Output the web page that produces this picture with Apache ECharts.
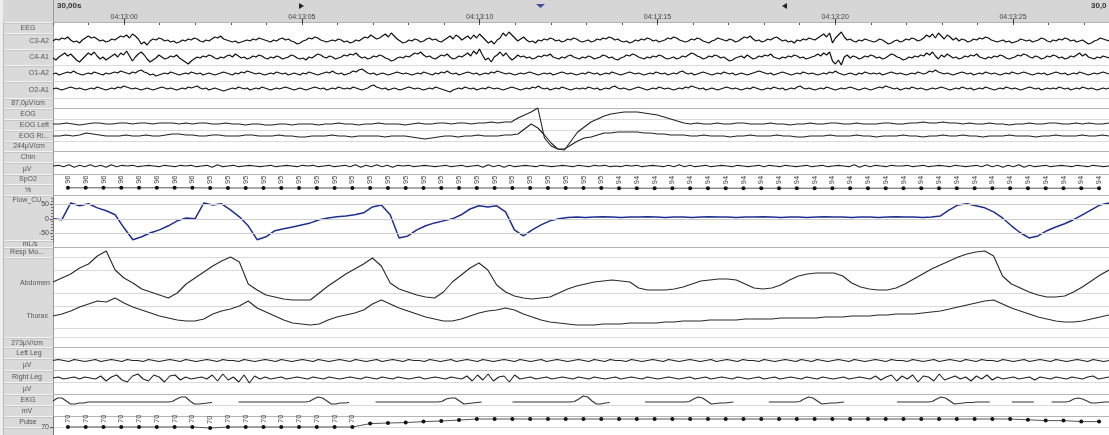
<!DOCTYPE html>
<html>
<head>
<meta charset="utf-8">
<script src="https://cdn.jsdelivr.net/npm/echarts@6/dist/echarts.min.js"></script>
<style>
html,body{margin:0;padding:0;background:#ffffff;}
#chart{width:1109px;height:435px;}
</style>
</head>
<body>
<div id="chart"></div>
<script>
// ================= DATA =================
// time base: seconds relative to 04:13:00
const timeStart = -2.0;
const timeEnd = 27.7;
const tickTimes = [0, 5, 10, 15, 20, 25];
const tickLabels = ['04:13:00', '04:13:05', '04:13:10', '04:13:15', '04:13:20', '04:13:25'];
const windowLabel = '30,00s';
const windowLabelRight = '30,0';
const dotStart = -1.58;   // time of first SpO2 / pulse sample
const dotStep = 0.5;      // seconds between samples

// EEG (display units)
const eegC3 = [
0,2,1,3,2,4,1,-1,0,-2,1,3,5,3,4,2,0,1,-1,0,
2,1,3,5,4,6,3,7,5,2,-3,-1,-4,0,2,1,3,2,0,1,
-1,0,-2,-1,1,0,2,1,3,2,0,-1,1,0,2,4,3,5,2,1,
0,-1,0,-2,-1,0,1,0,2,1,3,2,1,0,-1,1,0,2,3,1,
2,0,-1,-3,-2,0,1,3,2,4,3,1,0,-1,0,1,0,2,1,-1,
0,-2,-1,1,0,2,4,3,6,4,2,3,5,7,4,8,5,2,0,-2,
-1,1,0,2,1,-1,0,2,3,1,2,0,-1,1,3,5,2,6,4,1,
3,5,2,6,3,7,4,1,-2,0,-3,1,3,8,5,9,6,3,0,2,
4,1,-1,0,-2,1,0,2,1,3,2,0,1,-1,0,2,1,3,2,0,
-1,0,1,-1,0,2,1,3,2,4,3,1,2,0,-1,0,-2,-1,1,0,
2,1,3,2,0,1,-1,0,1,3,2,4,3,1,0,-1,0,2,1,3,
2,0,-1,-2,0,1,3,2,1,0,2,1,-1,0,2,4,3,5,2,0,
1,-1,0,2,1,3,4,2,0,1,-1,0,-2,1,0,2,1,3,2,1,
3,5,7,4,8,-2,3,6,9,4,1,2,0,-1,1,0,2,1,0,-1,
0,2,1,-1,-3,-2,0,1,-1,0,2,1,3,2,0,1,3,6,4,7,
3,8,5,2,6,4,1,3,0,2,1,-1,0,2,1,3,2,4,3,1,
0,-1,0,1,-1,0,-2,-1,0,2,1,0,1,-1,0,1,3,2,0,-1,
1,0,2,1,3,2,0,1,-1,0,1,-1,-3,-2,0,1,3,2,1,0];
const eegC4 = [
0,-2,1,3,5,2,4,1,-2,-4,-1,2,5,3,6,2,-1,1,-2,0,
2,4,1,5,3,7,2,-3,1,4,6,3,-1,-4,-2,0,3,1,-1,0,
2,1,3,0,-2,-4,-6,-3,-1,1,0,2,1,3,2,0,-1,1,0,2,
3,1,4,2,0,1,-1,0,2,1,3,2,0,-1,1,0,2,1,-1,0,
1,3,2,0,-1,0,-2,1,0,2,4,3,1,0,2,1,-1,0,1,3,
2,4,3,5,2,0,1,-1,0,2,1,3,2,0,-1,-3,-2,0,1,0,
2,1,3,5,4,6,3,1,2,0,-1,1,3,2,4,1,-1,0,2,1,
3,5,2,7,4,9,3,-2,0,-4,1,3,6,2,5,1,-2,0,3,1,
2,0,1,-1,0,2,1,3,2,4,1,0,-1,1,0,2,3,1,0,-1,
1,0,2,1,-1,0,1,3,2,0,1,-1,-2,0,1,3,2,4,3,1,
0,-1,1,0,2,1,3,2,0,-1,0,1,-1,0,2,1,3,5,4,2,
1,-1,0,2,1,3,2,0,1,-1,-3,-2,0,1,2,0,3,1,-1,0,
2,1,3,2,4,1,0,-1,1,0,2,1,3,2,0,1,-1,0,1,2,
4,2,5,3,6,-3,-6,-2,-7,1,3,0,2,1,-1,0,2,1,3,2,
0,1,-1,0,2,4,3,1,0,-2,-1,1,0,2,1,3,2,5,3,6,
2,-1,3,1,4,2,0,1,-1,0,2,1,3,2,4,1,0,-1,1,0,
2,1,3,2,0,-1,0,1,3,2,4,3,1,0,2,1,-1,0,2,1,
3,2,0,1,-1,0,2,1,3,5,2,4,1,0,-1,1,0,2,1,0];
const eegO1 = [
0,1,-1,0,1,2,1,3,1,0,-1,0,1,0,2,1,0,-1,1,0,
1,2,1,3,2,1,0,2,1,3,4,2,1,-1,0,-2,-1,0,1,0,
2,1,0,-1,0,1,0,2,1,0,1,-1,0,1,0,-1,0,1,2,1,
0,-1,1,0,2,1,3,2,1,0,1,0,-1,0,1,0,2,1,0,1,
-1,0,1,0,-1,1,0,2,1,0,-1,0,1,2,1,3,1,0,1,-1,
0,1,3,2,4,5,3,1,0,1,-1,0,1,0,-1,0,1,2,1,0,
1,0,-1,0,1,0,2,1,0,-1,1,0,2,1,3,1,0,1,-1,0,
1,2,1,0,1,-1,0,1,0,2,1,3,2,1,0,1,0,-1,0,1,
0,1,2,1,0,-1,0,1,0,1,-1,0,1,2,1,0,1,0,-1,0,
1,0,2,1,0,1,-1,0,1,0,2,1,0,-1,0,1,2,1,0,1,
0,-1,0,1,0,2,1,0,1,-1,0,1,0,2,3,1,0,1,-1,0,
1,2,1,0,-1,0,1,0,2,1,0,1,-1,0,1,0,-1,0,1,2,
3,2,1,0,1,-1,0,1,2,1,0,-1,0,1,0,2,1,0,1,0,
-1,0,1,0,2,1,3,1,0,-1,0,1,0,-1,1,0,2,1,0,1,
0,1,-1,0,1,2,1,0,1,0,-1,0,1,0,2,1,0,1,3,2,
4,2,1,0,1,0,-1,0,1,2,1,0,1,-1,0,1,0,2,1,0,
1,0,-1,0,1,0,2,1,0,1,2,1,0,-1,0,1,0,1,-1,0,
1,2,1,0,1,-1,0,1,0,2,1,0,-1,0,1,0,1,2,1,0];
const eegO2 = [
0,1,0,-1,0,1,2,1,0,1,0,-1,0,1,0,2,1,0,-1,0,
1,0,2,1,3,2,1,0,1,0,-1,0,1,0,-1,0,1,2,1,0,
1,0,-1,0,1,0,2,1,2,3,1,0,1,-1,0,1,0,-1,-2,-1,
0,1,0,2,1,0,1,-1,0,1,0,2,1,0,-1,0,1,0,1,2,
1,0,-1,0,1,0,-1,0,1,2,1,0,1,-1,0,1,0,2,1,0,
1,0,2,1,0,-1,0,1,3,4,2,1,0,1,-1,0,1,0,-1,0,
1,2,1,0,1,0,-1,0,1,0,2,1,0,-1,-2,-3,-1,0,1,0,
2,1,0,1,-1,0,1,0,2,1,0,1,0,-1,0,1,2,1,0,-1,
0,1,0,2,1,3,1,0,1,-1,0,1,0,2,1,0,-1,0,1,0,
1,0,2,1,0,1,-1,0,1,0,2,3,1,0,1,0,-1,0,1,2,
1,0,-1,0,1,0,2,1,0,1,0,-1,0,1,0,2,1,3,2,1,
0,1,-1,0,1,0,-1,0,1,2,1,0,1,0,-1,0,1,0,2,1,
0,-1,0,1,0,2,1,0,1,-1,0,1,0,2,3,1,0,1,0,-1,
0,1,0,2,1,0,-1,0,1,0,1,2,1,0,-1,0,1,0,-1,0,
1,2,1,3,2,1,0,1,-1,0,1,0,2,1,0,1,0,-1,0,1,
0,1,2,1,0,-1,0,1,0,2,1,0,1,-1,0,1,0,2,1,0,
-1,0,1,0,2,1,0,1,0,-1,0,1,2,1,0,1,-1,0,1,0,
1,0,2,1,0,1,-1,0,1,0,2,1,0,1,0,-1,0,1,0,1];

// EOG
const eogLeft = [
0,0,1,0,-1,0,1,1,0,0,1,1,0,1,1,0,1,1,1,0,
1,0,1,1,0,0,1,0,0,-1,0,0,-1,-1,0,0,-1,0,0,0,
-1,0,0,1,0,0,-1,0,0,1,0,0,0,-1,0,1,0,0,1,1,
0,1,1,0,1,1,2,1,2,2,
6,9,12,16,-14,-22,-25,-26,-17,-8,
-3,2,5,8,10,11,12,12,12,11,10,9,7,5,3,1,
0,1,0,0,1,0,0,1,1,0,0,0,1,0,0,-1,0,0,1,0,
0,1,1,0,0,1,0,0,0,1,1,0,0,1,1,2,1,1,2,1,
1,0,1,0,0,1,0,0,-1,0,0,1,0,0,1,1,0,0,1,0,
1,0,0,1];
const eogRight = [
0,0,1,0,1,3,2,1,0,0,0,1,0,0,1,0,0,1,2,2,
1,1,0,0,1,1,0,0,0,1,1,0,0,0,1,0,0,-1,-1,0,
0,0,1,0,0,-1,0,0,0,0,-1,0,0,0,-1,-2,-3,-2,-1,0,
0,-1,0,0,1,0,0,0,1,1,
2,7,12,8,1,-7,-13,-13,-9,-5,
-2,-1,1,3,3,4,4,4,4,3,3,2,2,1,1,1,
0,0,1,0,0,0,-1,0,0,1,0,0,0,1,0,0,-1,-1,0,0,
0,1,0,0,0,1,0,0,-1,0,0,0,1,0,0,-1,0,0,1,0,
0,1,0,0,-1,0,0,0,1,0,0,0,-1,0,0,1,0,0,0,1,
0,0,1,0];

// Chin EMG
const chin = [
0,1,-1,2,-2,1,-1,2,-1,1,-2,2,-1,1,0,1,-1,0,1,0,
-1,1,0,-1,1,0,1,-1,0,1,-2,2,-1,0,1,-1,0,1,0,-1,
0,1,-1,0,1,0,-1,1,0,1,-1,0,1,-1,0,1,-1,2,-2,1,
-1,2,-1,1,-2,1,0,1,-1,0,1,0,-1,0,1,-1,0,1,-1,0,
1,-2,2,-1,1,-2,1,-1,0,1,0,-1,1,0,-1,0,1,0,-1,1,
0,-1,1,0,1,-1,0,-1,1,0,1,-1,0,1,0,-1,1,-1,2,-1,
1,-1,0,1,-1,0,1,0,-1,1,0,-1,0,1,-1,1,0,-1,1,0,
-1,0,1,-1,0,1,-1,0,1,0,-1,2,-2,1,-1,1,0,-1,1,0,
0,1,-1,0,1,-1,0,1,0,-1,1,0,-1,0,1,-1,2,-1,1,-2,
1,-1,2,-2,1,-1,0,1,-1,0,1,0,-1,1,0,-1,1,0,-1,0];

// SpO2 (%)
const spo2 = [96,96,96,96,96,96,96,96,
95,95,95,95,95,95,95,95,95,95,95,95,95,95,95,95,95,95,95,95,95,95,95,
94,94,94,94,94,94,94,94,94,94,94,94,94,94,94,94,94,94,94,94,94,94,94,94,94,94,94,94];

// Airflow (mL/s)
const flow = [
0,-3,55,45,52,38,28,14,-31,-72,-62,-48,-38,-24,-7,3,0,55,48,52,
31,7,-24,-72,-62,-41,-34,-28,-21,-14,-3,3,7,10,14,21,41,48,14,-66,
-59,-38,-24,-14,-7,0,14,34,45,41,45,24,-38,-59,-38,-21,-7,0,5,6,
5,6,7,6,5,6,6,7,6,5,6,6,5,6,7,6,6,5,6,6,
7,6,5,6,6,5,6,7,6,6,5,6,6,5,6,7,6,6,5,6,
10,31,48,52,45,38,24,3,-24,-48,-66,-59,-41,-28,-17,-3,14,31,48,55];

// Respiratory effort
const abdomen = [
28,32,36,42,46,54,59,40,32,27,21,18,15,12,17,26,32,38,44,49,
53,48,26,20,15,13,11,10,10,10,17,24,30,36,41,46,52,44,27,21,
18,15,13,12,18,28,35,42,47,40,25,18,14,12,11,12,13,17,21,24,
26,28,29,30,29,28,22,20,20,20,21,23,26,29,30,31,31,30,26,22,
21,22,25,30,34,36,37,37,37,34,27,23,21,20,20,22,26,31,36,41,
45,49,53,56,58,59,54,34,26,22,18,15,13,13,14,18,23,29,35,40];
const thorax = [
14,16,19,23,26,29,28,32,27,23,20,17,14,12,10,9,9,11,16,19,
21,24,29,22,18,14,10,7,6,5,6,10,13,15,17,20,26,30,26,22,
19,16,13,11,9,9,11,14,17,19,20,22,20,16,13,10,8,7,6,5,
5,5,6,6,6,7,7,7,7,8,8,9,9,9,10,10,10,10,11,11,
11,11,12,12,12,12,12,13,13,13,14,14,14,15,15,16,16,16,17,18,
19,21,23,25,27,29,30,26,22,19,16,13,11,9,8,8,9,11,13,15];

// Leg EMG
const leftLeg = [
0,1,0,-1,1,0,-1,0,1,-1,0,1,0,-1,1,0,0,-1,1,0,
-1,0,1,0,-1,1,0,-1,0,1,0,-1,1,0,0,-1,1,0,-1,0,
1,0,-1,1,0,-1,0,1,0,-1,1,0,-1,0,1,0,-1,1,0,-1,
0,1,-1,0,1,0,-1,1,0,0,-1,1,0,-1,0,1,-1,0,1,0,
-1,1,0,-1,0,1,0,-1,1,0,-1,0,1,-1,0,1,0,-1,0,1,
0,-1,1,0,-1,1,0,0,-1,1,0,-1,0,1,0,-1,1,0,-1,0,
1,0,-1,0,1,-1,0,1,0,-1,1,0,0,-1,1,0,-1,0,1,0,
-1,1,0,-1,1,0,-1,0,1,0,-1,1,0,-1,0,1,0,-1,1,0,
0,-1,1,0,-1,0,1,-1,0,1,0,-1,1,0,-1,1,0,0,-1,1,
0,-1,0,1,-1,0,1,0,-1,1,0,-1,0,1,0,-1,1,0,-1,0];
const rightLeg = [
0,1,-1,0,1,-1,1,0,-1,2,-3,1,3,-2,-4,2,4,-1,-3,3,
1,-4,2,3,-2,1,-1,0,1,-1,3,-3,4,-2,1,-4,3,-5,2,-1,
1,-1,0,1,-1,0,1,0,-1,1,0,-1,1,0,-1,0,1,0,-1,1,
0,-1,1,0,-1,1,0,-1,0,1,-1,0,1,0,-1,1,0,-1,2,-3,
3,-2,4,-3,1,2,-4,3,-1,0,1,-1,0,1,-1,0,1,0,-1,1,
0,-1,1,0,-1,0,1,-1,0,1,0,-1,1,0,-1,0,1,0,-1,0,
1,-1,0,1,-1,0,1,0,-1,1,0,-1,0,1,-1,0,1,-1,0,1,
0,-1,1,0,-1,1,0,-1,0,1,-1,0,1,0,-1,2,-2,1,3,-3,
2,-1,3,-4,2,1,-3,4,-2,0,2,-1,1,-3,2,-1,3,-2,1,-1,
0,1,-1,0,1,-2,1,0,-1,1,0,-1,1,0,-1,1,2,-1,0,1];

// EKG (display units), null = trace not drawn
const ekg = [
1,4,4,1,-2,-2,-1,-1,0,0,0,0,0,0,0,0,0,0,0,0,
0,0,0,0,0,0,0,0.5,3,5,5,1,-2,-2,-1.5,-1,-0.5,null,null,null,
null,null,0,0,0,0,0,0,0,0,0,0,0,0,0,0,0,0,0.5,3,
5,4,1,-2,-2,-1,-1,-0.5,null,null,null,null,null,0,0,0,0,0,0,0,
0,0,0,0,0,0,0,0,0.5,3,4,4,1,-2,-1.5,-1,-0.5,0,null,null,
null,null,null,null,0,0,0,0,0,0,0,0,0,0,0,0,0,0,0.5,3,
6,5,1,-2,-2,-1,-0.5,null,null,null,null,null,null,null,0,0,0,0,0,0,
0,0,0,0,0.5,3,5,4,1,-2,-1.5,-1,-1,-0.5,0,null,null,null,null,null,
null,null,0,0,0,0,0,0,0,0.5,3,5,4,1,-2,-1.5,-1,-1,-0.5,0,
null,null,null,null,null,null,null,null,null,null,null,0,0,0,0,0,0,0,0,0.5,
3,5,4,1,-2,-1.5,-1,-0.5,-0.5,0,0,0,0,null,null,null,null,0,0,0,
0,0,0,null,null,null,0,0,0,0,0.5,3,4,3,1,-1,-1,-0.5,0,0];

// Pulse (bpm)
const pulse = [70,70,70,70,70,70,70,70,69.5,70,70,70,70,70,70,70,70,
71.7,72,72.2,72.7,73,73.5,
74,74,74,74,74,74,74,74,74,74,74,74,74,74,74,74,74,74,74,74,74,74,74,74,74,74,74,74,74,74,
74,73.6,73.2,73.2,72.7,72.7];

// ================= BUILD =================
const FONT = "'Liberation Sans','DejaVu Sans',Arial,sans-serif";
const grids = [], xAxes = [], yAxes = [], series = [];

function seq(arr) {
  const n = arr.length;
  return arr.map((v, i) => [timeStart + i * (timeEnd - timeStart) / (n - 1), v]);
}
function dots(arr) {
  return arr.map((v, i) => [dotStart + i * dotStep, v]);
}
function track(top, height, min, max, yOpts) {
  const gi = grids.length;
  grids.push({left: 53, right: 0, top: top, height: height});
  const xi = xAxes.length;
  xAxes.push({type: 'value', gridIndex: gi, min: timeStart, max: timeEnd, show: false});
  const yi = yAxes.length;
  yAxes.push(Object.assign({type: 'value', gridIndex: gi, min: min, max: max, show: false, splitLine: {show: false}}, yOpts || {}));
  return {gi, xi, yi};
}
function trace(t, arr, color, width, extra) {
  const s = Object.assign({
    type: 'line', xAxisIndex: t.xi, yAxisIndex: t.yi, data: seq(arr),
    showSymbol: false, symbol: 'none', clip: false, silent: true, animation: false,
    connectNulls: false,
    lineStyle: {color: color, width: width}
  }, extra || {});
  series.push(s);
  return s;
}

// header time axis
{
  const gi = grids.length;
  grids.push({left: 53, right: 0, top: 23, height: 2});
  xAxes.push({type: 'value', gridIndex: gi, position: 'top', min: timeStart, max: timeEnd, interval: 1,
    axisLine: {show: false}, splitLine: {show: false},
    axisTick: {show: true, length: 2, lineStyle: {color: '#555'}},
    axisLabel: {show: false}});
  xAxes.push({type: 'value', gridIndex: gi, position: 'top', min: timeStart, max: timeEnd,
    axisLine: {show: false}, splitLine: {show: false},
    axisTick: {show: true, length: 4, customValues: tickTimes, lineStyle: {color: '#333'}},
    axisLabel: {show: true, customValues: tickTimes, margin: 2, fontSize: 7, color: '#444', fontFamily: FONT,
      formatter: v => tickLabels[tickTimes.indexOf(v)] || ''}});
  yAxes.push({type: 'value', gridIndex: gi, show: false});
}

// EEG
const INK = '#111111';
trace(track(33, 16, -8, 8), eegC3, INK, 1.2);
trace(track(50, 16, -8, 8), eegC4, INK, 1.2);
trace(track(66, 16, -8, 8), eegO1, INK, 1.1);
trace(track(81, 16, -8, 8), eegO2, INK, 1.1);
// EOG
trace(track(108, 40, -24, 16), eogLeft, '#222', 1.1);
trace(track(120, 30, -14, 16), eogRight, '#222', 1.1);
// Chin
trace(track(152, 22, -12, 21), chin, '#222', 1.1);
// SpO2
{
  const t = track(187, 20, 0, 100);
  series.push({type: 'line', xAxisIndex: t.xi, yAxisIndex: t.yi, data: dots(spo2), clip: false, silent: true, animation: false,
    symbol: 'circle', symbolSize: 4, showSymbol: true, itemStyle: {color: '#111'}, lineStyle: {color: '#555', width: 1},
    label: {show: true, position: 'top', distance: 2, rotate: 90, align: 'left', verticalAlign: 'middle',
      fontSize: 7.5, color: '#444', fontFamily: FONT, formatter: p => String(p.value[1])}});
}
// Flow
{
  const t = track(198, 44, -80, 72, {show: true, position: 'left',
    axisLine: {show: true, onZero: false, lineStyle: {color: '#777'}},
    axisTick: {show: true, length: 3, customValues: [-50, 0, 50], lineStyle: {color: '#555'}},
    axisLabel: {show: true, customValues: [-50, 0, 50], margin: 4, fontSize: 7, color: '#444', fontFamily: FONT}});
  yAxes.push({type: 'value', gridIndex: t.gi, min: -80, max: 72, position: 'left', show: true,
    axisLine: {show: false, onZero: false}, splitLine: {show: false}, axisLabel: {show: false},
    axisTick: {show: true, length: 2, customValues: [-70, -60, -40, -30, -20, -10, 10, 20, 30, 40, 60, 70], lineStyle: {color: '#777'}}});
  trace(t, flow, '#1f2f8f', 1.5, {markLine: {silent: true, symbol: 'none', label: {show: false}, animation: false,
    lineStyle: {color: '#cccccc', type: 'solid', width: 1}, data: [{yAxis: 50}, {yAxis: 0}, {yAxis: -50}]}, z: 3});
}
// Resp
trace(track(250, 60, 0, 60), abdomen, '#2a2a2a', 1.1);
trace(track(290, 40, 0, 40), thorax, '#2a2a2a', 1.1);
// Legs
trace(track(348, 22, -9.5, 12.5), leftLeg, '#222', 1.1);
trace(track(371, 23, -16, 7), rightLeg, '#222', 1.1);
// EKG
trace(track(395, 20, -13, 7), ekg, '#333', 1.1);
// Pulse
{
  const t = track(417, 18, 66, 75, {show: true, position: 'left',
    axisLine: {show: true, onZero: false, lineStyle: {color: '#777'}},
    axisTick: {show: true, length: 3, customValues: [70], lineStyle: {color: '#555'}},
    axisLabel: {show: true, customValues: [70], margin: 4, fontSize: 7, color: '#444', fontFamily: FONT}});
  series.push({type: 'line', xAxisIndex: t.xi, yAxisIndex: t.yi, data: dots(pulse), clip: false, silent: true, animation: false,
    symbol: 'circle', symbolSize: 4, showSymbol: true, itemStyle: {color: '#111'}, lineStyle: {color: '#555', width: 1},
    label: {show: true, position: 'top', distance: 2, rotate: 90, align: 'left', verticalAlign: 'middle',
      fontSize: 7.5, color: '#444', fontFamily: FONT,
      formatter: p => (p.value[1] <= 70.5 ? String(Math.round(p.value[1])) : '')}});
}

// ---------- static frame (label column, header, separators) ----------
const graphic = [];
graphic.push({type: 'rect', z: -20, shape: {x: 0, y: 0, width: 1109, height: 22}, style: {fill: '#d6d6d6'}});
graphic.push({type: 'rect', z: -20, shape: {x: 0, y: 22, width: 53, height: 413}, style: {fill: '#dadada'}});
graphic.push({type: 'rect', z: -19, shape: {x: 0, y: 0, width: 3, height: 435}, style: {fill: '#eeeeee'}});
const colLines = [22.5,33.5,49.5,65.5,81.5,98.5,108.5,119.5,130.5,141.5,151.5,162.5,174.5,184.5,195.5,240.5,247.5,257.5,337.5,347.5,358.5,370.5,382.5,394.5,405.5,416.5,427.5];
colLines.forEach(y => {
  graphic.push({type: 'line', z: -15, shape: {x1: 3, y1: y, x2: 53, y2: y}, style: {stroke: '#f3f3f3', lineWidth: 1}});
  graphic.push({type: 'line', z: -15, shape: {x1: 3, y1: y + 1, x2: 53, y2: y + 1}, style: {stroke: '#c6c6c6', lineWidth: 1}});
});
const plotLight = [49.5,65.5,81.5,98.5,119.5,130.5,141.5,162.5,257.5,270.5,293.5,306.5,328.5,337.5,358.5,382.5,405.5,427.5];
const plotDark = [22.5,108.5,151.5,174.5,195.5,247.5,347.5,370.5,394.5,416.5];
plotLight.forEach(y => graphic.push({type: 'line', z: -15, shape: {x1: 53, y1: y, x2: 1109, y2: y}, style: {stroke: '#dadada', lineWidth: 1}}));
plotDark.forEach(y => graphic.push({type: 'line', z: -14, shape: {x1: 53, y1: y, x2: 1109, y2: y}, style: {stroke: '#b4b4b4', lineWidth: 1}}));
graphic.push({type: 'line', z: -14, shape: {x1: 53.5, y1: 0, x2: 53.5, y2: 435}, style: {stroke: '#9c9c9c', lineWidth: 1}});
graphic.push({type: 'line', z: -14, shape: {x1: 3.5, y1: 22, x2: 3.5, y2: 435}, style: {stroke: '#b8b8b8', lineWidth: 1}});

const labels = [
  ['EEG', 28, 28, 'center'], ['C3-A2', 49, 41.5, 'right'], ['C4-A1', 49, 57.5, 'right'],
  ['O1-A2', 49, 73.5, 'right'], ['O2-A1', 49, 90, 'right'], ['87,0µV/cm', 28, 103.5, 'center'],
  ['EOG', 28, 114, 'center'], ['EOG Left', 49, 125, 'right'], ['EOG Ri...', 49, 136, 'right'],
  ['244µV/cm', 29, 146.5, 'center'], ['Chin', 28, 157, 'center'], ['µV', 27, 169, 'center'],
  ['SpO2', 28, 179.5, 'center'], ['%', 28, 190, 'center'], ['Flow_CU', 27, 200, 'center'],
  ['mL/s', 30, 244, 'center'], ['Resp Mo...', 27, 252.5, 'center'], ['Abdomen', 50, 283, 'right'],
  ['Thorax', 48, 316, 'right'], ['273µV/cm', 27, 343, 'center'], ['Left Leg', 29, 353, 'center'],
  ['µV', 27, 365.5, 'center'], ['Right Leg', 27, 377.5, 'center'], ['µV', 27, 389.5, 'center'],
  ['EKG', 28, 400, 'center'], ['mV', 27, 411, 'center'], ['Pulse', 28, 422, 'center']
];
labels.forEach(l => graphic.push({type: 'text', z: 20, style: {text: l[0], x: l[1], y: l[2], align: l[3], verticalAlign: 'middle',
  font: '7px ' + FONT, fill: '#555'}}));

graphic.push({type: 'text', z: 20, style: {text: windowLabel, x: 57, y: 6, verticalAlign: 'middle', font: 'bold 8px ' + FONT, fill: '#333'}});
graphic.push({type: 'text', z: 20, style: {text: windowLabelRight, x: 1091, y: 6, verticalAlign: 'middle', font: 'bold 8px ' + FONT, fill: '#333'}});
graphic.push({type: 'polygon', z: 20, shape: {points: [[299, 3], [299, 9], [304, 6]]}, style: {fill: '#222'}});
graphic.push({type: 'polygon', z: 20, shape: {points: [[536, 4], [545, 4], [540.5, 8]]}, style: {fill: '#4a4a9a'}});
graphic.push({type: 'polygon', z: 20, shape: {points: [[787, 3], [787, 9], [782, 6]]}, style: {fill: '#222'}});

const chart = echarts.init(document.getElementById('chart'), null, {renderer: 'canvas'});
chart.setOption({
  animation: false,
  backgroundColor: '#ffffff',
  grid: grids, xAxis: xAxes, yAxis: yAxes, series: series,
  graphic: {elements: graphic}
});
</script>
</body>
</html>
